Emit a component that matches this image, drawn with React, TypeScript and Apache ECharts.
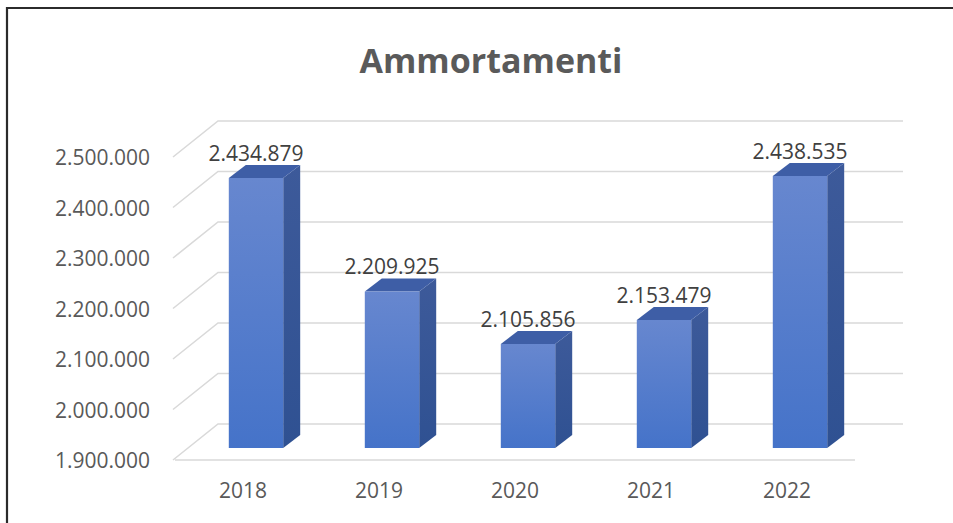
import React, { useEffect, useRef } from "react";
import * as echarts from "echarts";

const categories = ["2018", "2019", "2020", "2021", "2022"];
const values = [2434879, 2209925, 2105856, 2153479, 2438535];
const yTicks = [1900000, 2000000, 2100000, 2200000, 2300000, 2400000, 2500000];

const Y_MIN = 1900000;
const Y_MAX = 2500000;
const Y_STEP = 100000;

const fmt = (v: number) => String(Math.round(v)).replace(/\B(?=(\d{3})+(?!\d))/g, ".");

const FONT = "'Open Sans', 'Noto Sans', sans-serif";

export default function App() {
  const ref = useRef<HTMLDivElement>(null);
  useEffect(() => {
    if (!ref.current) return;
    const chart = echarts.init(ref.current, undefined, { renderer: "svg" });

    const WALL_DX = 43;
    const WALL_DY = -36;
    const BAR_OX = 13;
    const BAR_OY = -12;
    const BAR_DX = 17;
    const BAR_DY = -13;

    chart.setOption({
      animation: false,
      backgroundColor: "#ffffff",
      title: {
        text: "Ammortamenti",
        left: 486,
        top: 38,
        textAlign: "center",
        textStyle: { fontFamily: FONT, fontSize: 34, fontWeight: "bold", color: "#5a5a5a" },
      },
      grid: { left: 175, right: 98, top: 157, bottom: 63, containLabel: false },
      xAxis: {
        type: "category",
        data: categories,
        axisLine: { show: false },
        axisTick: { show: false },
        splitLine: { show: false },
        axisLabel: { color: "#595959", fontSize: 21, fontFamily: FONT, margin: 19 },
      },
      yAxis: {
        type: "value",
        min: Y_MIN,
        max: Y_MAX,
        interval: Y_STEP,
        axisLine: { show: false },
        axisTick: { show: false },
        splitLine: { show: false },
        axisLabel: {
          color: "#595959",
          fontSize: 21,
          fontFamily: FONT,
          margin: 25,
          formatter: (v: number) => fmt(v),
        },
      },
      graphic: [
        {
          type: "polyline",
          shape: { points: [[7, 523], [7, 8], [953, 8]] },
          style: { stroke: "#2b2b2b", lineWidth: 2.2, fill: "none" },
          z: 100,
        },
      ],
      series: [
        {
          type: "custom",
          z: 1,
          silent: true,
          encode: { x: 0, y: 1 },
          data: yTicks.map((t) => [0, t]),
          renderItem: (params: any, api: any) => {
            const v = api.value(1);
            const p = api.coord([0, v]);
            const cs = params.coordSys;
            const left = cs.x;
            const right = cs.x + cs.width;
            const children: any[] = [
              {
                type: "polyline",
                shape: {
                  points: [
                    [left - 2, p[1]],
                    [left + WALL_DX, p[1] + WALL_DY],
                    [right + WALL_DX + 5, p[1] + WALL_DY],
                  ],
                },
                style: { stroke: "#d9d9d9", lineWidth: 1.6, fill: "none" },
              },
            ];
            if (v === Y_MIN) {
              children.push({
                type: "line",
                shape: { x1: left, y1: p[1], x2: right, y2: p[1] },
                style: { stroke: "#d9d9d9", lineWidth: 1.6 },
              });
            }
            return { type: "group", children };
          },
        },
        {
          type: "custom",
          z: 5,
          encode: { x: 0, y: 1 },
          data: values.map((v, i) => [i, v]),
          renderItem: (params: any, api: any) => {
            const idx = api.value(0);
            const val = api.value(1);
            const top = api.coord([idx, val]);
            const base = api.coord([idx, Y_MIN]);
            const bw = api.size([1, 0])[0] * 0.4;
            const cx = top[0] + BAR_OX;
            const yT = top[1] + BAR_OY;
            const yB = base[1] + BAR_OY;
            const x0 = cx - bw / 2;
            const x1 = cx + bw / 2;
            return {
              type: "group",
              children: [
                {
                  type: "polygon",
                  shape: {
                    points: [
                      [x1, yT],
                      [x1 + BAR_DX, yT + BAR_DY],
                      [x1 + BAR_DX, yB + BAR_DY],
                      [x1, yB],
                    ],
                  },
                  style: {
                    fill: new echarts.graphic.LinearGradient(0, 0, 0, 1, [
                      { offset: 0, color: "#3d5a9a" },
                      { offset: 1, color: "#2f5192" },
                    ]),
                  },
                },
                {
                  type: "polygon",
                  shape: {
                    points: [
                      [x0, yT],
                      [x1, yT],
                      [x1 + BAR_DX, yT + BAR_DY],
                      [x0 + BAR_DX, yT + BAR_DY],
                    ],
                  },
                  style: { fill: "#3e5ea6" },
                },
                {
                  type: "rect",
                  shape: { x: x0, y: yT, width: bw, height: yB - yT },
                  style: {
                    fill: new echarts.graphic.LinearGradient(0, 0, 0, 1, [
                      { offset: 0, color: "#6787cf" },
                      { offset: 1, color: "#4573c9" },
                    ]),
                  },
                },
                {
                  type: "text",
                  style: {
                    text: fmt(val),
                    x: cx,
                    y: yT - 25,
                    align: "center",
                    verticalAlign: "middle",
                    fontSize: 21,
                    fontFamily: FONT,
                    fill: "#404040",
                  },
                },
              ],
            };
          },
        },
      ],
    });

    return () => chart.dispose();
  }, []);

  return (
    <div
      ref={ref}
      style={{ position: "fixed", left: 0, top: 0, width: 953, height: 523, background: "#fff" }}
    />
  );
}
